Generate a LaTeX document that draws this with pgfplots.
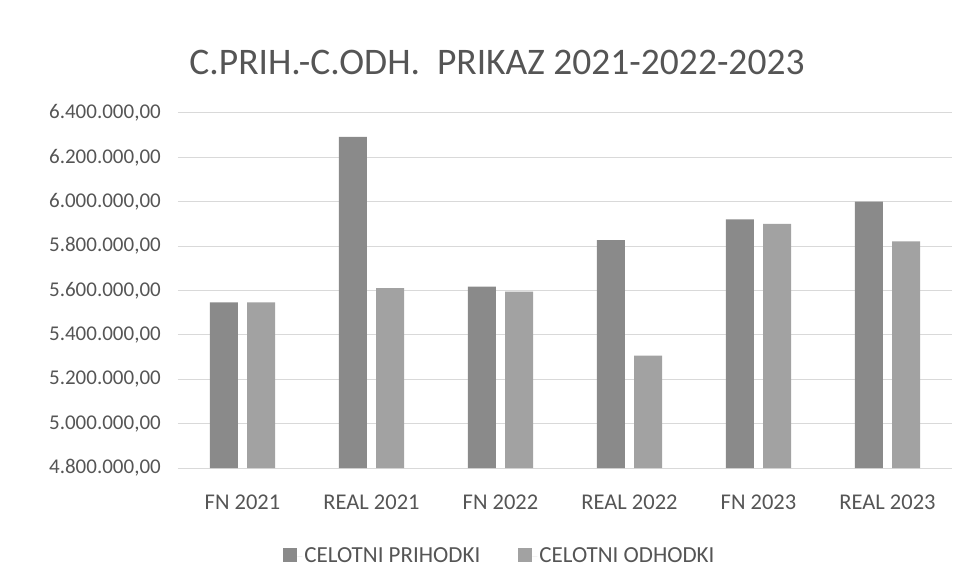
\documentclass[border=0pt]{standalone}
\usepackage{pgfplots}
\pgfplotsset{compat=1.18}
\usepackage{fontspec}
\setmainfont{Carlito}
\definecolor{barA}{RGB}{138,138,138}
\definecolor{barB}{RGB}{162,162,162}
\definecolor{txt}{RGB}{85,85,85}
\definecolor{gridc}{RGB}{217,217,217}
\begin{document}
\begin{tikzpicture}
\useasboundingbox (-178pt,-118pt) rectangle (791pt,468pt);
\begin{axis}[
  at={(0pt,0pt)}, anchor=south west,
  scale only axis, width=774pt, height=355pt,
  xmin=-0.5, xmax=5.5,
  ymin=4800000, ymax=6400000,
  ytick={4800000,5000000,5200000,5400000,5600000,5800000,6000000,6200000,6400000},
  xtick={0,1,2,3,4,5},
  xticklabels={FN 2021,REAL 2021,FN 2022,REAL 2022,FN 2023,REAL 2023},
  scaled y ticks=false,
  /pgf/number format/assume math mode=true,
  yticklabel={\pgfmathprintnumber[fixed,fixed zerofill,precision=2,use comma,1000 sep={.}]{\tick}},
  ymajorgrids, major grid style={gridc, line width=1pt},
  axis line style={draw=none},
  major tick length=0pt,
  yticklabel style={font=\fontsize{21}{25}\selectfont, text=txt, anchor=east, inner sep=0pt, xshift=-17pt},
  xticklabel style={font=\fontsize{22.5}{26}\selectfont, text=txt, anchor=base, inner sep=0pt, yshift=-41pt},
  bar width=0.217,
  legend style={draw=none, at={(0.416,-0.248)}, anchor=center, legend columns=2,
    font=\fontsize{23}{27}\selectfont, text=txt,
    /tikz/every even column/.append style={column sep=36pt}},
  legend image code/.code={\fill[#1] (0pt,-6pt) rectangle (14pt,8pt); \path (14pt,0pt) -- (19pt,0pt);},
]
\addplot[ybar, fill=barA, draw=none, bar shift=-0.145] coordinates {
 (0,5546000) (1,6292000) (2,5618000) (3,5827000) (4,5920000) (5,6000000)};
\addlegendentry{CELOTNI PRIHODKI}
\addplot[ybar, fill=barB, draw=none, bar shift=0.145] coordinates {
 (0,5546000) (1,5611000) (2,5595000) (3,5307000) (4,5900000) (5,5821000)};
\addlegendentry{CELOTNI ODHODKI}
\end{axis}
\node[text=txt, font=\fontsize{37.5}{44}\selectfont, anchor=base] at (319pt,393pt) {C.PRIH.-C.ODH.\ \ PRIKAZ 2021-2022-2023};
\end{tikzpicture}
\end{document}
